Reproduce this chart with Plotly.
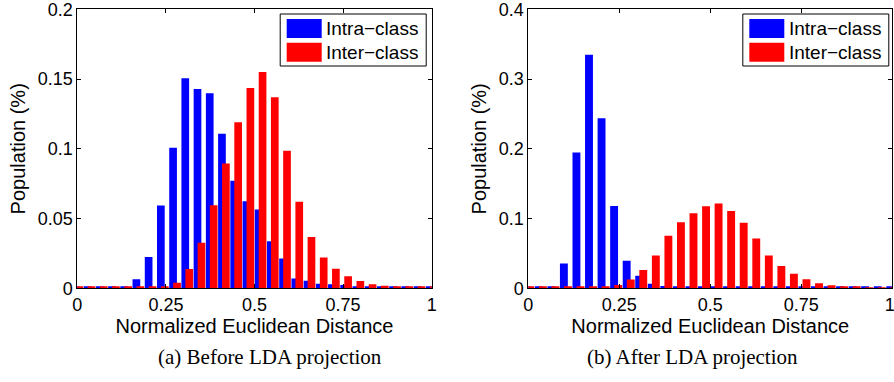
import plotly.graph_objects as go

# ---------------- data ----------------
bin_centers = [0.0, 0.0345, 0.069, 0.1034, 0.1379, 0.1724, 0.2069, 0.2414, 0.2759, 0.3103,
               0.3448, 0.3793, 0.4138, 0.4483, 0.4828, 0.5172, 0.5517, 0.5862, 0.6207, 0.6552,
               0.6897, 0.7241, 0.7586, 0.7931, 0.8276, 0.8621, 0.8966, 0.931, 0.9655, 1.0]

intra_before = [0.001, 0.001, 0.001, 0.001, 0.001, 0.0064, 0.0224, 0.0593, 0.1007, 0.1505,
                0.1429, 0.1398, 0.1107, 0.0771, 0.0624, 0.0564, 0.0338, 0.0214, 0.0071, 0.0055,
                0.0033, 0.0029, 0.0024, 0.001, 0.001, 0.001, 0.001, 0.001, 0.001, 0.001]
inter_before = [0.001, 0.001, 0.001, 0.001, 0.001, 0.001, 0.001, 0.0015, 0.004, 0.0138,
                0.0326, 0.0595, 0.0895, 0.119, 0.1436, 0.155, 0.137, 0.0986, 0.0621, 0.0367,
                0.0221, 0.014, 0.0086, 0.0052, 0.0029, 0.0019, 0.001, 0.001, 0.001, 0.001]

intra_after = [0.002, 0.002, 0.002, 0.0357, 0.1948, 0.335, 0.2438, 0.118, 0.0395, 0.018,
               0.0067, 0.0033, 0.002, 0.002, 0.003, 0.002, 0.002, 0.002, 0.002, 0.002,
               0.002, 0.002, 0.002, 0.002, 0.002, 0.002, 0.002, 0.002, 0.002, 0.002]
inter_after = [0.002, 0.002, 0.002, 0.002, 0.002, 0.002, 0.002, 0.0048, 0.0127, 0.0264,
               0.047, 0.0752, 0.0948, 0.1076, 0.1176, 0.1214, 0.111, 0.0938, 0.0714, 0.0471,
               0.0319, 0.021, 0.0129, 0.0071, 0.0043, 0.0029, 0.0019, 0.0014, 0.0014, 0.0014]

x_tickvals = [0, 0.25, 0.5, 0.75, 1]
x_ticktext = ["0", "0.25", "0.5", "0.75", "1"]
# the last label of the right panel sits at the window edge; a trailing
# no-break space nudges it inward so it stays fully visible (as in the reference)
x2_ticktext = ["0", "0.25", "0.5", "0.75", "1\u00a0"]
y1_tickvals = [0, 0.05, 0.1, 0.15, 0.2]
y1_ticktext = ["0", "0.05", "0.1", "0.15", "0.2"]
y2_tickvals = [0, 0.1, 0.2, 0.3, 0.4]
y2_ticktext = ["0", "0.1", "0.2", "0.3", "0.4"]

series_names = ["Intra\u2212class", "Inter\u2212class"]
captions = ["(a) Before LDA projection", "(b) After LDA projection"]
x_title = "Normalized Euclidean Distance"
y_title = "Population (%)"

# ---------------- layout helpers ----------------
W, H = 894, 382
BLUE, RED = "#0000FF", "#FF0000"
SANS = "Liberation Sans, Arial, Helvetica, sans-serif"
SERIF = "Liberation Serif, Times New Roman, serif"


def px(x):
    return x / W


def py(y):
    return 1 - y / H


BAR_W = 0.0217
OFF_BLUE = -0.0165
OFF_RED = -0.0053

fig = go.Figure()
panels = [
    ("x", "y", intra_before, inter_before),
    ("x2", "y2", intra_after, inter_after),
]
for xa, ya, intra, inter in panels:
    fig.add_trace(go.Bar(x=bin_centers, y=intra, xaxis=xa, yaxis=ya, width=BAR_W,
                         offset=OFF_BLUE, marker=dict(color=BLUE, line=dict(width=0)),
                         name=series_names[0], showlegend=False))
    fig.add_trace(go.Bar(x=bin_centers, y=inter, xaxis=xa, yaxis=ya, width=BAR_W,
                         offset=OFF_RED, marker=dict(color=RED, line=dict(width=0)),
                         name=series_names[1], showlegend=False))

# plot areas (window pixels)
L1, R1 = 77.3, 431.7
L2, R2 = 528.3, 892.3
TOP, BOT = 9.3, 288.3

axis_common = dict(showline=True, linecolor="black", linewidth=1, mirror="allticks",
                   ticks="inside", ticklen=4, tickcolor="black", showgrid=False,
                   zeroline=False, automargin=False, ticklabeloverflow="allow",
                   tickfont=dict(family=SANS, size=18, color="black"))
title_font = dict(family=SANS, size=20, color="black")

fig.update_layout(
    width=W, height=H,
    margin=dict(l=0, r=0, t=0, b=0, pad=0, autoexpand=False),
    paper_bgcolor="white", plot_bgcolor="white",
    barmode="overlay",
    xaxis=dict(domain=[px(L1), px(R1)], range=[0, 1], anchor="y",
               tickvals=x_tickvals, ticktext=x_ticktext,
               title=dict(text=x_title, font=title_font, standoff=2),
               **axis_common),
    yaxis=dict(domain=[py(BOT), py(TOP)], range=[0, 0.2], anchor="x",
               tickvals=y1_tickvals, ticktext=y1_ticktext,
               title=dict(text=y_title, font=title_font, standoff=6),
               **axis_common),
    xaxis2=dict(domain=[px(L2), px(R2)], range=[0, 1], anchor="y2",
                tickvals=x_tickvals, ticktext=x2_ticktext,
                title=dict(text=x_title, font=title_font, standoff=2),
                **axis_common),
    yaxis2=dict(domain=[py(BOT), py(TOP)], range=[0, 0.4], anchor="x2",
                tickvals=y2_tickvals, ticktext=y2_ticktext,
                title=dict(text=y_title, font=title_font, standoff=6),
                **axis_common),
)

shapes = []
annotations = []
# manual legends (box + swatches + labels)
for right_edge in (R1 - 5.5, R2 - 3.5):
    bx1 = right_edge
    bx0 = bx1 - 146
    by0, by1 = 14, 66
    shapes.append(dict(type="rect", xref="paper", yref="paper",
                       x0=px(bx0), x1=px(bx1), y0=py(by1), y1=py(by0),
                       line=dict(color="black", width=1), fillcolor="white", layer="above"))
    for i, (col, name) in enumerate(zip((BLUE, RED), series_names)):
        sy0 = 19 + i * 23.7
        shapes.append(dict(type="rect", xref="paper", yref="paper",
                           x0=px(bx0 + 6.5), x1=px(bx0 + 41.5), y0=py(sy0 + 19), y1=py(sy0),
                           line=dict(width=0), fillcolor=col, layer="above"))
        annotations.append(dict(xref="paper", yref="paper", x=px(bx0 + 44), y=py(sy0 + 9.5),
                                text=name, showarrow=False, xanchor="left", yanchor="middle",
                                font=dict(family=SANS, size=19, color="black")))

# captions
for cx, cap in zip((270, 692), captions):
    annotations.append(dict(xref="paper", yref="paper", x=px(cx), y=py(357),
                            text=cap, showarrow=False, xanchor="center", yanchor="middle",
                            font=dict(family=SERIF, size=21, color="black")))

fig.update_layout(shapes=shapes, annotations=annotations)

# remove the page's default body margin so the figure fills the window exactly
fig.write_html("out.html",
               config={"displayModeBar": False},
               post_script="document.body.style.margin='0';document.body.style.overflow='hidden';")
